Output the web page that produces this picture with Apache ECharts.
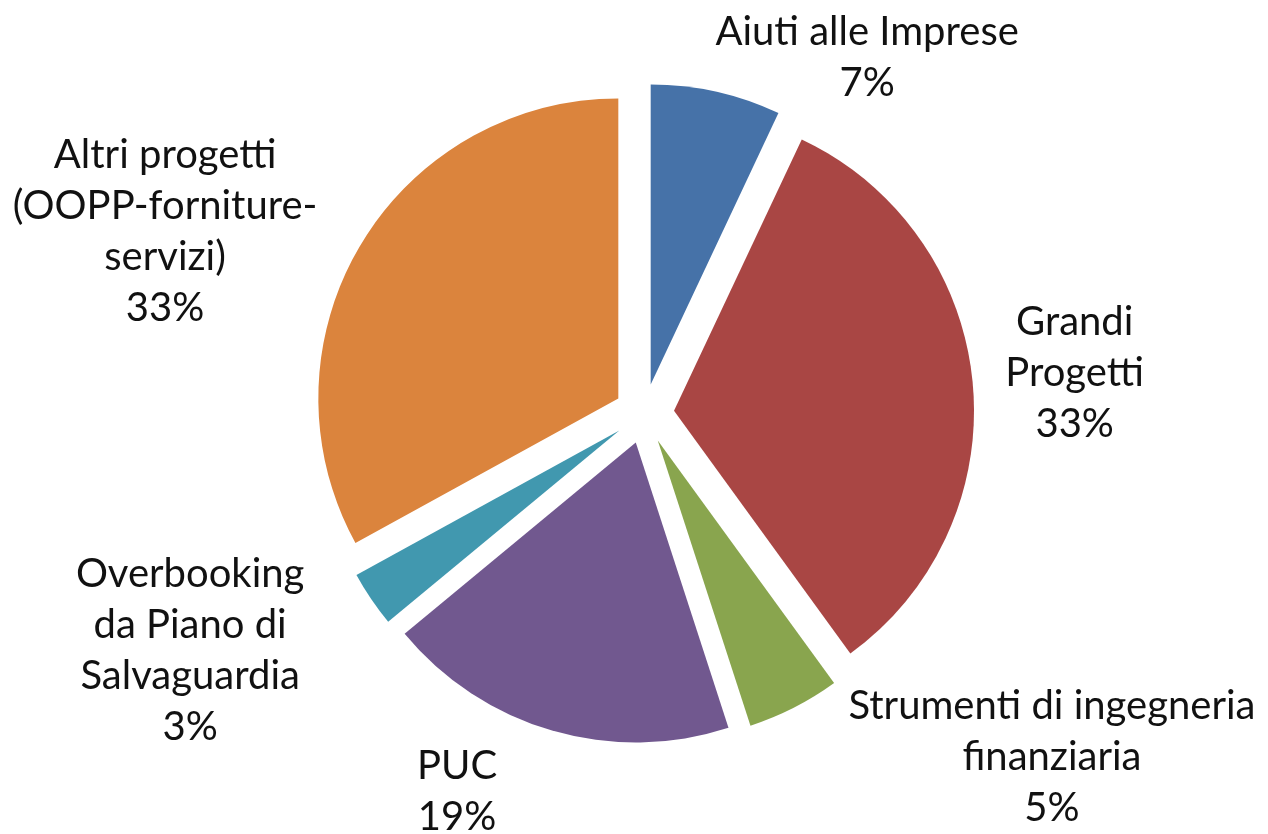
<!DOCTYPE html>
<html>
<head>
<meta charset="utf-8">
<script src="https://cdn.jsdelivr.net/npm/echarts@6/dist/echarts.min.js"></script>
<style>
  html, body { margin: 0; padding: 0; background: #fff; }
  #chart { width: 1268px; height: 834px; }
</style>
</head>
<body>
<div id="chart"></div>
<script>
const categories = [
    "Aiuti alle Imprese",
    "Grandi\nProgetti",
    "Strumenti di ingegneria\nfinanziaria",
    "PUC",
    "Overbooking\nda Piano di\nSalvaguardia",
    "Altri progetti\n(OOPP-forniture-\nservizi)"
];
const shares = [7, 33, 5, 19, 3, 33];
const colors = ["#4672a8", "#a94644", "#89a54e", "#71588f", "#4198af", "#db843d"];

// nudges of each label block (centre) from the default outside anchor
const labelShift = [[146, -34], [97, -10], [253, 49], [-90, 25], [-169, 51], [-190, -14]];

const getOption = () => {
    return {
        animation: false,
        color: colors,
        series: [
            {
                type: "pie",
                center: ["50.8%", "49.6%"],
                radius: 300,
                startAngle: 90,
                clockwise: true,
                selectedMode: "multiple",
                selectedOffset: 30,
                label: {
                    show: true,
                    position: "outside",
                    formatter: (p) => p.name + "\n" + p.value + "%",
                    fontFamily: "Lato",
                    fontSize: 40,
                    lineHeight: 51,
                    color: "#111"
                },
                labelLine: { show: false, length: 0, length2: 0 },
                labelLayout: (params) => {
                    const s = labelShift[params.dataIndex];
                    return { align: "center", dx: s[0], dy: s[1] };
                },
                select: { itemStyle: { borderWidth: 0 } },
                emphasis: { disabled: true },
                data: categories.map((name, i) => ({
                    name: name,
                    value: shares[i],
                    selected: true
                }))
            }
        ]
    };
};

const chart = echarts.init(document.getElementById("chart"));
chart.setOption(getOption());
</script>
</body>
</html>
